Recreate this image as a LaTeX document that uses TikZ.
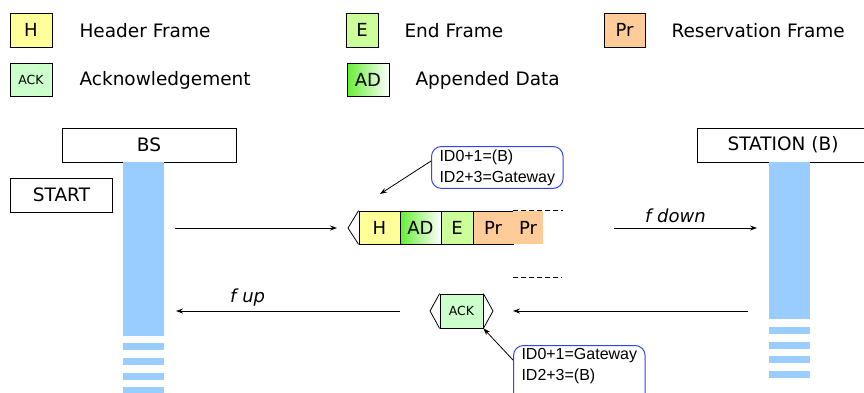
\documentclass[tikz,border=0pt]{standalone}
\usepackage{fontspec}
\setmainfont{DejaVu Sans}
\newfontfamily\arialfont{Liberation Sans}
\usetikzlibrary{arrows.meta,shadings}

\definecolor{hdryellow}{HTML}{FFFF99}
\definecolor{ackgreen}{HTML}{CCFFCC}
\definecolor{endgreen}{HTML}{CCFF99}
\definecolor{resorange}{HTML}{FFCC99}
\definecolor{adgreen}{HTML}{66EE33}
\definecolor{barblue}{HTML}{99CCFF}
\definecolor{bubbleblue}{HTML}{3344EE}

\begin{document}
\begin{tikzpicture}[x=1pt, y=-1pt,
    cell/.style={draw, line width=0.8pt, minimum width=41pt, minimum height=33pt,
                 inner sep=0pt, font=\fontsize{18}{20}\selectfont},
    legtext/.style={anchor=west, font=\fontsize{18.5}{20}\selectfont},
    titlebox/.style={draw, line width=0.9pt, minimum height=34pt, inner sep=0pt,
                     font=\fontsize{18.5}{20}\selectfont},
    bar/.style={fill=barblue, draw=none, minimum width=41pt, inner sep=0pt, anchor=north},
    stripe/.style={fill=barblue, draw=none, minimum width=41pt, minimum height=7pt,
                   inner sep=0pt, anchor=north},
    flow/.style={-{Stealth[length=7pt, width=5pt]}, line width=1pt},
    pointer/.style={line width=0.8pt},
    dashrule/.style={line width=0.8pt, dash pattern=on 5pt off 3pt},
    bubble/.style={draw=bubbleblue, line width=1pt, rounded corners=10pt, align=left,
                   font=\arialfont\fontsize{16}{21}\selectfont, inner xsep=8pt,
                   inner ysep=3pt, anchor=north west},
    ratelabel/.style={font=\itshape\fontsize{18}{20}\selectfont},
]
    \useasboundingbox (0,0) rectangle (864,392);
    \clip (0,0) rectangle (864,392);

    % legend
    \node[cell, fill=hdryellow, minimum width=42pt, minimum height=34pt] (legH) at (31,30) {H};
    \node[legtext] (legHtxt) at (76,31) {Header Frame};
    \node[cell, fill=endgreen, minimum width=32pt, minimum height=34pt] (legE) at (362,30) {E};
    \node[legtext] (legEtxt) at (401,31) {End Frame};
    \node[cell, fill=resorange, minimum width=41pt, minimum height=34pt] (legPr) at (624.5,30) {Pr};
    \node[legtext] (legPrtxt) at (668,31) {Reservation Frame};
    \node[cell, fill=ackgreen, minimum width=42pt, minimum height=33pt,
          font=\fontsize{12.5}{14}\selectfont] (legAck) at (31,79.5) {ACK};
    \node[legtext] (legAcktxt) at (76,80) {Acknowledgement};
    \node[cell, left color=adgreen, right color=white, minimum width=42pt,
          minimum height=33pt] (legAD) at (368,79.5) {AD};
    \node[legtext] (legADtxt) at (412,80) {Appended Data};

    % base station and station
    \node[titlebox, minimum width=174pt] (bs) at (149,145) {BS};
    \node[titlebox, minimum width=102pt] (start) at (61.5,195) {START};
    \node[bar, minimum height=174pt] (bsbar) at (143.5,162) {};
    \foreach \y in {343,357.5,372.5,387}
        \node[stripe] at (143.5,\y) {};
    \node[titlebox, minimum width=172pt] (sta) at (783,145) {STATION (B)};
    \node[bar, minimum height=157pt] (stabar) at (789.5,162) {};
    \foreach \y in {327,341.5,356,370.5}
        \node[stripe] at (789.5,\y) {};

    % downlink frame
    \node[cell, fill=hdryellow] (hdr) at (379.5,227.5) {H};
    \node[cell, left color=adgreen, right color=white] (ad) at (420.5,227.5) {AD};
    \node[cell, fill=endgreen, minimum width=32pt] (end) at (457,227.5) {E};
    \node[cell, fill=resorange, minimum width=40pt] (res) at (493,227.5) {Pr};
    \node[cell, fill=resorange, draw=none, minimum width=30pt] (resb) at (528,227.5) {Pr};
    \coordinate (hdrtip) at (348,228);
    \draw[pointer] (hdr.north west) -- (hdrtip) -- (hdr.south west);
    \draw[dashrule] (res.north east) -- ++(50,0);

    % uplink ack
    \node[cell, fill=ackgreen, minimum width=43pt, minimum height=34pt,
          font=\fontsize{12.5}{14}\selectfont] (ack) at (461.5,311) {ACK};
    \coordinate (acktipl) at (430,311);
    \coordinate (acktipr) at (493,311);
    \draw[pointer] (ack.north west) -- (acktipl) -- (ack.south west);
    \draw[pointer] (ack.north east) -- (acktipr) -- (ack.south east);
    \draw[dashrule] (513,277) -- (562,277);

    % flows
    \coordinate (bsdown) at (175,228);
    \coordinate (stadown) at (757,228);
    \coordinate (staup) at (748,311);
    \coordinate (bsup) at (176,311);
    \draw[flow, shorten >=11pt] (bsdown) -- (hdrtip);
    \draw[flow] (614,228) -- node[ratelabel, above, pos=0.43, yshift=1pt] {f down} (stadown);
    \draw[flow, shorten >=20pt] (staup) -- (acktipr);
    \draw[flow] ([xshift=-30pt]acktipl) -- node[ratelabel, above, pos=0.68, yshift=1pt] {f up} (bsup);

    % address bubbles
    \node[bubble] (idsdown) at (431,146) {ID0+1=(B)\\ID2+3=Gateway};
    \draw[flow, line width=0.8pt] ([yshift=-15pt]idsdown.north west) -- (380,194);
    \node[bubble] (idsup) at (513,345) {ID0+1=Gateway\\ID2+3=(B)\\[2pt]};
    \draw[flow, line width=0.8pt] ([yshift=-15pt]idsup.north west) -- (ack.south east);
\end{tikzpicture}
\end{document}
